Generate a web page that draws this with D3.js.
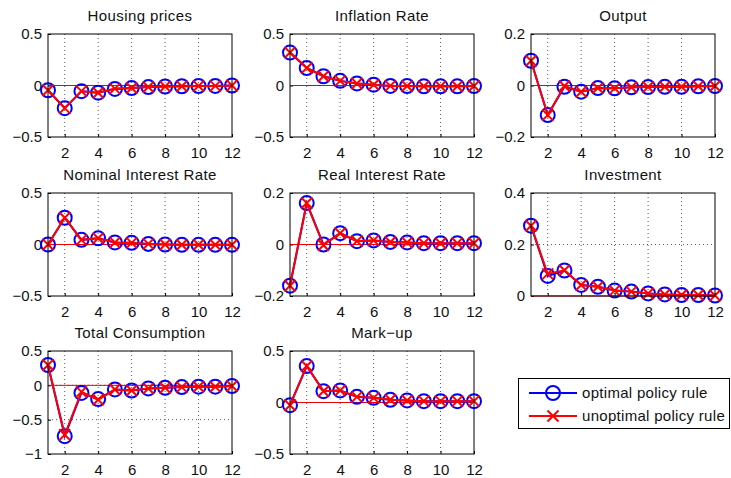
<!DOCTYPE html>
<html>
<head>
<meta charset="utf-8">
<script src="https://cdn.jsdelivr.net/npm/d3@7"></script>
<style>
  body { margin: 0; background: #fff; }
  svg { font-family: "Liberation Sans", Arial, Helvetica, sans-serif; }
</style>
</head>
<body>
<div id="chart"></div>
<script>
// quarters after the shock
var periods = [1, 2, 3, 4, 5, 6, 7, 8, 9, 10, 11, 12];
var xTicks = [2, 4, 6, 8, 10, 12];

var titles = ["Housing prices", "Inflation Rate", "Output",
              "Nominal Interest Rate", "Real Interest Rate", "Investment",
              "Total Consumption", "Mark\u2212up"];

var yTicks = [[-0.5, 0, 0.5], [-0.5, 0, 0.5], [-0.2, 0, 0.2],
              [-0.5, 0, 0.5], [-0.2, 0, 0.2], [0, 0.2, 0.4],
              [-1, -0.5, 0, 0.5], [-0.5, 0, 0.5]];

// optimal policy rule
var housingOpt   = [-0.046, -0.22, -0.055, -0.07, -0.033, -0.025, -0.015, -0.01, -0.007, -0.005, -0.004, 0];
var inflationOpt = [0.32, 0.17, 0.09, 0.045, 0.02, 0.008, -0.004, -0.005, -0.008, -0.008, -0.008, -0.005];
var outputOpt    = [0.096, -0.115, -0.005, -0.024, -0.01, -0.011, -0.007, -0.006, -0.005, -0.005, -0.003, -0.002];
var nominalOpt   = [0, 0.26, 0.045, 0.06, 0.02, 0.016, 0.006, 0, -0.003, -0.003, -0.003, -0.003];
var realOpt      = [-0.16, 0.161, 0, 0.044, 0.013, 0.016, 0.01, 0.008, 0.005, 0.005, 0.005, 0.005];
var investOpt    = [0.273, 0.078, 0.099, 0.043, 0.036, 0.021, 0.017, 0.01, 0.006, 0.004, 0.004, 0.002];
var consOpt      = [0.296, -0.74, -0.11, -0.2, -0.06, -0.075, -0.045, -0.035, -0.026, -0.02, -0.02, -0.01];
var markupOpt    = [-0.026, 0.354, 0.11, 0.117, 0.055, 0.045, 0.026, 0.02, 0.013, 0.013, 0.013, 0.013];

// unoptimal policy rule
var housingUnopt   = [-0.046, -0.22, -0.055, -0.07, -0.03, -0.025, -0.015, -0.01, -0.007, -0.005, -0.004, 0];
var inflationUnopt = [0.32, 0.17, 0.09, 0.045, 0.02, 0.008, -0.004, -0.005, -0.008, -0.008, -0.008, -0.005];
var outputUnopt    = [0.096, -0.115, -0.002, -0.024, -0.01, -0.011, -0.007, -0.006, -0.005, -0.005, -0.003, -0.002];
var nominalUnopt   = [0, 0.26, 0.045, 0.06, 0.02, 0.016, 0.006, 0, -0.003, -0.003, -0.003, -0.003];
var realUnopt      = [-0.16, 0.161, -0.003, 0.044, 0.013, 0.016, 0.01, 0.008, 0.005, 0.005, 0.005, 0.005];
var investUnopt    = [0.273, 0.086, 0.1, 0.043, 0.036, 0.021, 0.017, 0.01, 0.006, 0.004, 0.004, 0.002];
var consUnopt      = [0.296, -0.72, -0.095, -0.21, -0.06, -0.075, -0.045, -0.035, -0.026, -0.02, -0.02, -0.01];
var markupUnopt    = [-0.026, 0.354, 0.11, 0.117, 0.055, 0.045, 0.026, 0.02, 0.013, 0.013, 0.013, 0.013];

var optSeries   = [housingOpt, inflationOpt, outputOpt, nominalOpt, realOpt, investOpt, consOpt, markupOpt];
var unoptSeries = [housingUnopt, inflationUnopt, outputUnopt, nominalUnopt, realUnopt, investUnopt, consUnopt, markupUnopt];

var legendLabels = ["optimal policy rule", "unoptimal policy rule"];

var w = 731, h = 478;
var colX = [48, 290, 531], colW = 184;
var rowY = [34, 193, 351], rowH = 103;

var svg = d3.select("#chart").append("svg")
  .attr("width", w).attr("height", h);

function fmt(v) {
  return (v === 0 ? "0" : String(v)).replace("-", "\u2212");
}

function xMark(g, cx, cy, s, color) {
  g.append("path")
    .attr("d", "M" + (cx - s) + "," + (cy - s) + "L" + (cx + s) + "," + (cy + s) +
               "M" + (cx - s) + "," + (cy + s) + "L" + (cx + s) + "," + (cy - s))
    .attr("stroke", color).attr("stroke-width", 2).attr("fill", "none");
}

titles.forEach(function(title, i) {
  var left = colX[i % 3], top = rowY[Math.floor(i / 3)];
  var ticks = yTicks[i];
  var x = d3.scaleLinear().domain([1, 12]).range([0, colW]);
  var y = d3.scaleLinear().domain([ticks[0], ticks[ticks.length - 1]]).range([rowH, 0]);

  var g = svg.append("g").attr("transform", "translate(" + left + "," + top + ")");

  // grid
  g.append("g").selectAll("line").data(xTicks.slice(0, -1)).enter().append("line")
    .attr("x1", d => x(d)).attr("x2", d => x(d)).attr("y1", 0).attr("y2", rowH)
    .attr("stroke", "#333").attr("stroke-width", 0.8).attr("stroke-dasharray", "1,3");
  g.append("g").selectAll("line").data(ticks.slice(1, -1)).enter().append("line")
    .attr("x1", 0).attr("x2", colW).attr("y1", d => y(d)).attr("y2", d => y(d))
    .attr("stroke", "#333").attr("stroke-width", 0.8).attr("stroke-dasharray", "1,3");

  // axes (ticks drawn inward, like matlab)
  var xAxis = d3.axisBottom(x).tickValues(xTicks).tickSize(-3).tickPadding(7).tickFormat(d3.format("d"));
  var yAxis = d3.axisLeft(y).tickValues(ticks).tickSize(-3).tickPadding(6).tickFormat(fmt);
  var gx = g.append("g").attr("transform", "translate(0," + rowH + ")").call(xAxis);
  var gy = g.append("g").call(yAxis);
  [gx, gy].forEach(function(a) {
    a.select(".domain").remove();
    a.selectAll("text").attr("font-size", 15).attr("fill", "#111")
      .attr("font-family", "'Liberation Sans', Arial, sans-serif");
    a.selectAll("line").attr("stroke", "#000");
  });
  gx.selectAll("text").attr("dy", "0.9em");

  // zero line
  g.append("line")
    .attr("x1", x(1)).attr("x2", x(12)).attr("y1", y(0)).attr("y2", y(0))
    .attr("stroke", "#e00").attr("stroke-width", 1);

  // optimal: blue, circles
  var line = d3.line().x((d, k) => x(periods[k])).y(d => y(d));
  g.append("path").datum(optSeries[i]).attr("d", line)
    .attr("fill", "none").attr("stroke", "#0000ff").attr("stroke-width", 2);
  g.append("g").selectAll("circle").data(optSeries[i]).enter().append("circle")
    .attr("cx", (d, k) => x(periods[k])).attr("cy", d => y(d)).attr("r", 7)
    .attr("fill", "none").attr("stroke", "#0000ff").attr("stroke-width", 2);

  // unoptimal: red, crosses
  g.append("path").datum(unoptSeries[i]).attr("d", line)
    .attr("fill", "none").attr("stroke", "#ff0000").attr("stroke-width", 2);
  unoptSeries[i].forEach(function(d, k) {
    xMark(g, x(periods[k]), y(d), 5.5, "#ff0000");
  });

  // box
  g.append("rect").attr("width", colW).attr("height", rowH)
    .attr("fill", "none").attr("stroke", "#000").attr("stroke-width", 1);

  g.append("text").attr("x", colW / 2).attr("y", -13).attr("text-anchor", "middle")
    .attr("font-size", 15).attr("letter-spacing", 0.4).attr("fill", "#111").text(title);
});

// legend
var lg = svg.append("g");
lg.append("rect").attr("x", 518.5).attr("y", 378.5).attr("width", 211).attr("height", 50)
  .attr("fill", "#fff").attr("stroke", "#000").attr("stroke-width", 1);
legendLabels.forEach(function(label, i) {
  var ly = 393 + i * 23;
  var color = i === 0 ? "#0000ff" : "#ff0000";
  lg.append("line").attr("x1", 529).attr("x2", 577).attr("y1", ly).attr("y2", ly)
    .attr("stroke", color).attr("stroke-width", 2);
  if (i === 0) {
    lg.append("circle").attr("cx", 553).attr("cy", ly).attr("r", 7)
      .attr("fill", "none").attr("stroke", color).attr("stroke-width", 2);
  } else {
    xMark(lg, 553, ly, 5.5, color);
  }
  lg.append("text").attr("x", 582).attr("y", ly + 5).attr("font-size", 15)
    .attr("letter-spacing", 0.3).attr("fill", "#111").text(label);
});
</script>
</body>
</html>
